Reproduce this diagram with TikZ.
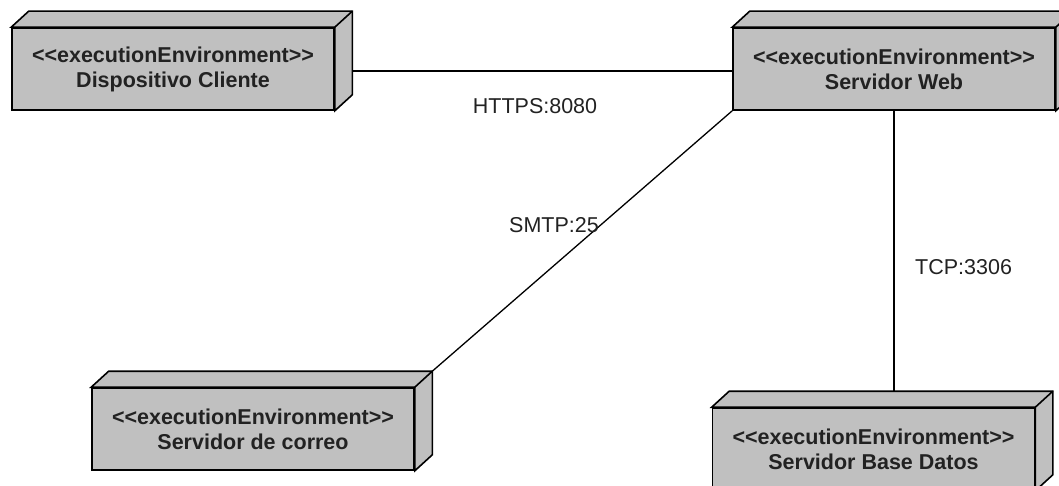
\documentclass[tikz,border=0pt]{standalone}
\usepackage{fontspec}
\setmainfont{Liberation Sans}
\definecolor{boxgray}{HTML}{C0C0C0}
\definecolor{inkgray}{HTML}{222222}
\tikzset{
  envbox/.style={draw=black, line width=1.6pt, fill=boxgray, line join=miter,
    minimum width=322pt, minimum height=82pt, inner sep=0pt, align=center,
    text=inkgray, font=\fontsize{21.5}{25}\selectfont\bfseries},
  face/.style={draw=black, line width=1.6pt, fill=boxgray, line join=miter},
  link/.style={draw=black, line width=1.3pt},
  linklabel/.style={text=inkgray, font=\fontsize{21.5}{24}\selectfont, inner sep=0pt}
}
% top and right faces of a 3D node box
\newcommand\boxdepth[1]{%
  \path[face] (#1.north west) -- ++(17.5,-16) -- ([shift={(17.5,-16)}]#1.north east)
    -- ([shift={(17.5,-16)}]#1.south east) -- (#1.south east) -- (#1.north east) -- cycle;
  \draw[face, fill=none] (#1.north east) -- ++(17.5,-16);
}
\newcommand\stereo{<\kern0pt<executionEnvironment>\kern0pt>}
\begin{document}
\begin{tikzpicture}[x=1pt, y=-1pt]
  \useasboundingbox (0,0) rectangle (1059,486);
  \clip (0,0) rectangle (1059,486);

  \node[envbox] (dc) at (173,69)   {\stereo\\Dispositivo Cliente};
  \node[envbox] (sw) at (894,69)   {\stereo\\Servidor Web};
  \node[envbox] (sc) at (253,429)  {\stereo\\Servidor de correo};
  \node[envbox] (bd) at (873.5,449) {\stereo\\Servidor Base Datos};
  \boxdepth{dc}
  \boxdepth{sw}
  \boxdepth{sc}
  \boxdepth{bd}

  \coordinate (dcside) at ([shift={(17.5,2)}]dc.east);
  \coordinate (swside) at ([shift={(0,2)}]sw.west);
  \coordinate (sctop) at ([shift={(17.5,-16)}]sc.north east);
  \coordinate (bdtop) at ([shift={(0,-16)}]bd.north);

  \draw[link] (dcside) -- (swside);
  \draw[link] (sw.south west) -- (sctop);
  \draw[link] (sw.south) -- (sw.south |- bdtop);

  \node[linklabel, anchor=base] (l1) at (535,114) {HTTPS:8080};
  \node[linklabel, anchor=base] (l2) at (554,233) {SMTP:25};
  \node[linklabel, anchor=base west] (l3) at (915,274) {TCP:3306};
\end{tikzpicture}
\end{document}
